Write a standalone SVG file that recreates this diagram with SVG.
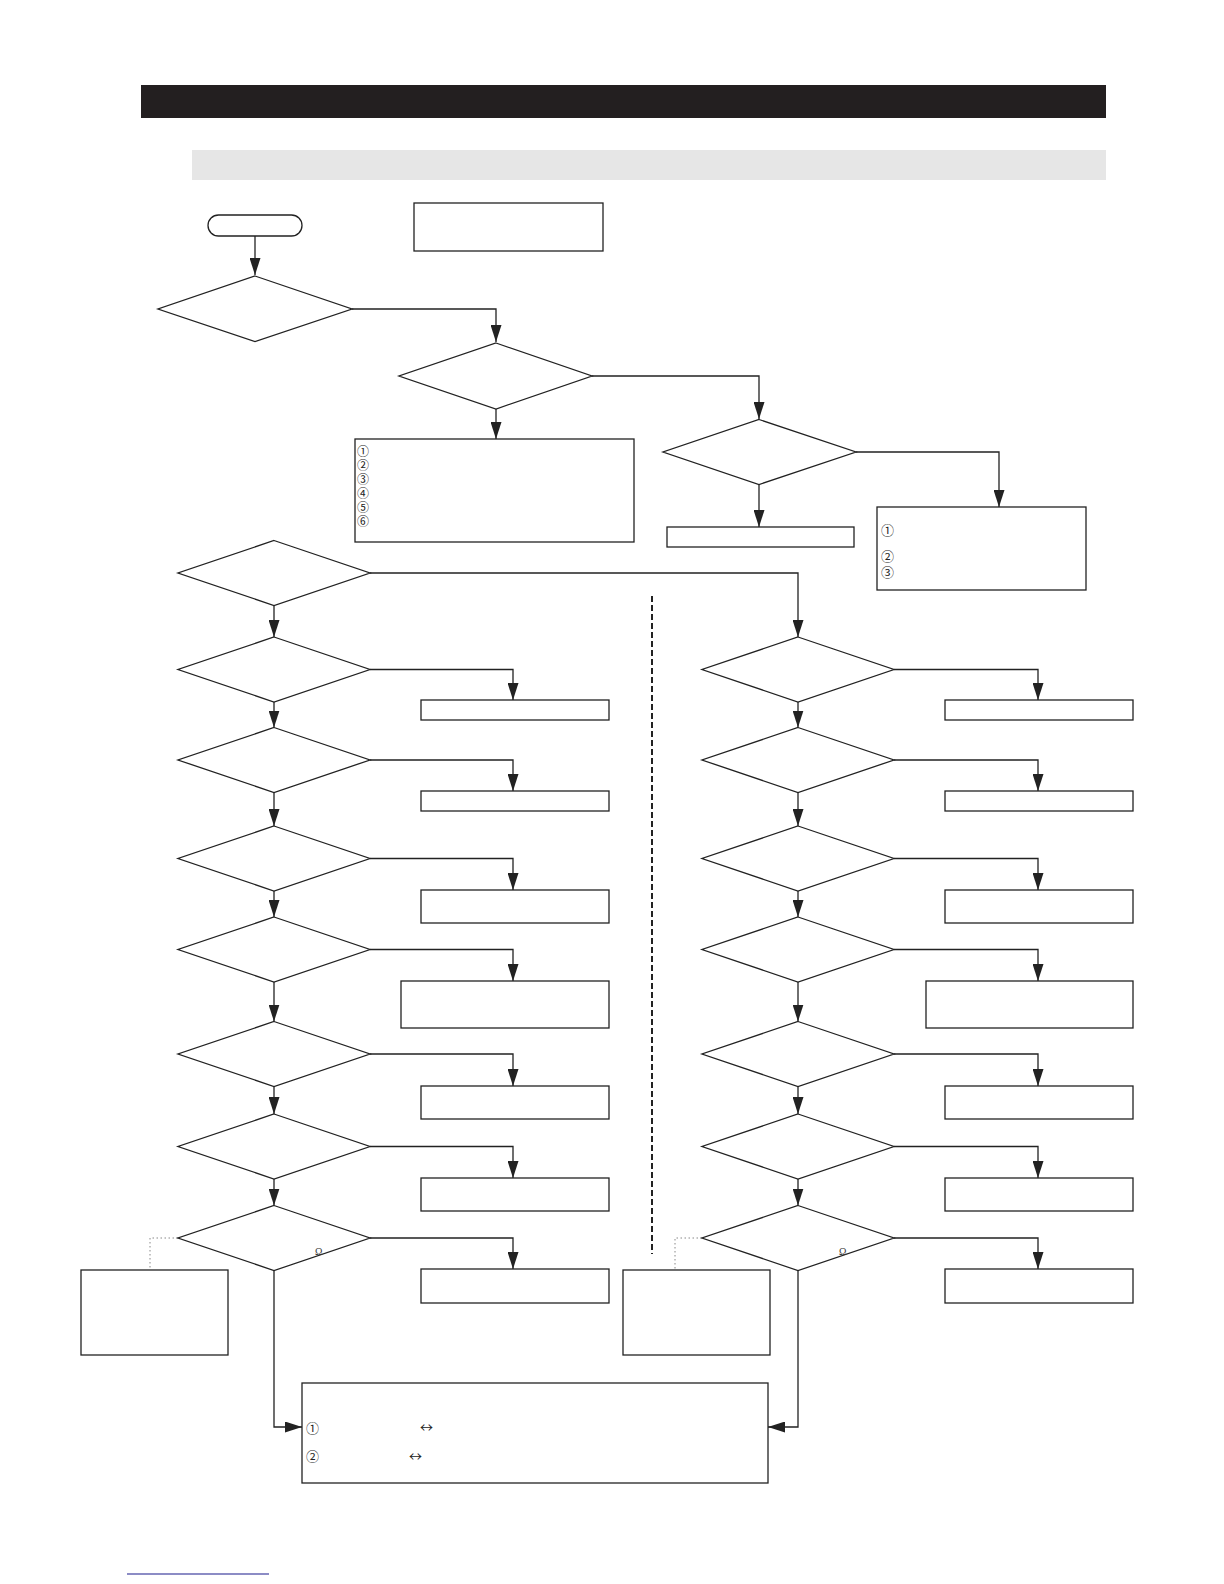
<svg xmlns="http://www.w3.org/2000/svg" width="1224" height="1584" viewBox="0 0 1224 1584">
<style>
.sh{fill:#fff;stroke:#222;stroke-width:1.3}
.cn{fill:none;stroke:#222;stroke-width:1.3}
.dot{fill:none;stroke:#888;stroke-width:1;stroke-dasharray:1.5 2.5}
.num{font-family:"Noto Sans CJK JP","DejaVu Sans",sans-serif;font-size:13px;fill:#222;dominant-baseline:central}
.num6{font-size:12px}
.sm{font-family:"Liberation Serif",serif;font-size:10px;fill:#333}
</style>
<defs>
<marker id="ah" markerWidth="17" markerHeight="11" refX="17" refY="5.5" orient="auto" markerUnits="userSpaceOnUse"><path d="M0,0 L17,5.5 L0,11 z" fill="#222"/></marker>
</defs>
<rect x="141" y="85" width="965" height="33" fill="#231f20"/>
<rect x="192" y="150" width="914" height="30" fill="#e6e6e6"/>
<line x1="127" y1="1574" x2="269" y2="1574" stroke="#1a1a8c" stroke-width="1.2"/>
<line x1="652" y1="596" x2="652" y2="1254" stroke="#222" stroke-width="2" stroke-dasharray="6 3"/>

<g id="connectors">
<path class="cn" d="M255,236 V275" marker-end="url(#ah)"/>
<path class="cn" d="M352,309 H496 V342" marker-end="url(#ah)"/>
<path class="cn" d="M496,409 V439" marker-end="url(#ah)"/>
<path class="cn" d="M592,376 H759 V419" marker-end="url(#ah)"/>
<path class="cn" d="M759,484 V527" marker-end="url(#ah)"/>
<path class="cn" d="M856,452 H999 V507" marker-end="url(#ah)"/>
<path class="cn" d="M370,573 H798 V637" marker-end="url(#ah)"/>
<path class="cn" d="M274,606 V637" marker-end="url(#ah)"/>
<path class="cn" d="M274,702 V727.5" marker-end="url(#ah)"/>
<path class="cn" d="M274,792.5 V826" marker-end="url(#ah)"/>
<path class="cn" d="M274,891 V917" marker-end="url(#ah)"/>
<path class="cn" d="M274,982 V1021.5" marker-end="url(#ah)"/>
<path class="cn" d="M274,1086.5 V1114" marker-end="url(#ah)"/>
<path class="cn" d="M274,1179 V1205.5" marker-end="url(#ah)"/>
<path class="cn" d="M370,669.5 H513 V700" marker-end="url(#ah)"/>
<path class="cn" d="M370,760 H513 V791" marker-end="url(#ah)"/>
<path class="cn" d="M370,858.5 H513 V890" marker-end="url(#ah)"/>
<path class="cn" d="M370,949.5 H513 V981" marker-end="url(#ah)"/>
<path class="cn" d="M370,1054 H513 V1086" marker-end="url(#ah)"/>
<path class="cn" d="M370,1146.5 H513 V1178" marker-end="url(#ah)"/>
<path class="cn" d="M370,1238 H513 V1269" marker-end="url(#ah)"/>
<path class="cn" d="M798,702 V727.5" marker-end="url(#ah)"/>
<path class="cn" d="M798,792.5 V826" marker-end="url(#ah)"/>
<path class="cn" d="M798,891 V917" marker-end="url(#ah)"/>
<path class="cn" d="M798,982 V1021.5" marker-end="url(#ah)"/>
<path class="cn" d="M798,1086.5 V1114" marker-end="url(#ah)"/>
<path class="cn" d="M798,1179 V1205.5" marker-end="url(#ah)"/>
<path class="cn" d="M894,669.5 H1038 V700" marker-end="url(#ah)"/>
<path class="cn" d="M894,760 H1038 V791" marker-end="url(#ah)"/>
<path class="cn" d="M894,858.5 H1038 V890" marker-end="url(#ah)"/>
<path class="cn" d="M894,949.5 H1038 V981" marker-end="url(#ah)"/>
<path class="cn" d="M894,1054 H1038 V1086" marker-end="url(#ah)"/>
<path class="cn" d="M894,1146.5 H1038 V1178" marker-end="url(#ah)"/>
<path class="cn" d="M894,1238 H1038 V1269" marker-end="url(#ah)"/>
<path class="cn" d="M274,1270.5 V1427 H302" marker-end="url(#ah)"/>
<path class="cn" d="M798,1270.5 V1427 H768" marker-end="url(#ah)"/>
<path class="dot" d="M178,1238 H150 V1270"/>
<path class="dot" d="M702,1238 H675 V1270"/>
</g>

<g id="start"><rect class="sh" x="208" y="215" width="94" height="21" rx="10.5"/></g>
<g id="note-top"><rect class="sh" x="414" y="203" width="189" height="48"/></g>
<g id="d1"><polygon class="sh" points="255,276 352,309 255,341.5 158,309"/></g>
<g id="d2"><polygon class="sh" points="496,343 592,376 496,409 399,376"/></g>
<g id="box-6"><rect class="sh" x="355" y="439" width="279" height="103"/>
<text class="num num6" x="357" y="450">①</text><text class="num num6" x="357" y="464">②</text><text class="num num6" x="357" y="478">③</text><text class="num num6" x="357" y="492">④</text><text class="num num6" x="357" y="506">⑤</text><text class="num num6" x="357" y="520">⑥</text></g>
<g id="d3"><polygon class="sh" points="759,419.5 856,452 759,484.5 663,452"/></g>
<g id="box-d3"><rect class="sh" x="667" y="527" width="187" height="20"/></g>
<g id="box-3"><rect class="sh" x="877" y="507" width="209" height="83"/>
<text class="num" x="881" y="529">①</text><text class="num" x="881" y="555">②</text><text class="num" x="881" y="571">③</text></g>
<g id="d4"><polygon class="sh" points="274,540.5 370,573 274,605.5 178,573"/></g>

<g id="left-column">
<polygon class="sh" points="274,637 370,669.5 274,702 178,669.5"/>
<polygon class="sh" points="274,727.5 370,760 274,792.5 178,760"/>
<polygon class="sh" points="274,826 370,858.5 274,891 178,858.5"/>
<polygon class="sh" points="274,917 370,949.5 274,982 178,949.5"/>
<polygon class="sh" points="274,1021.5 370,1054 274,1086.5 178,1054"/>
<polygon class="sh" points="274,1114 370,1146.5 274,1179 178,1146.5"/>
<polygon class="sh" points="274,1205.5 370,1238 274,1270.5 178,1238"/>
<text class="sm" x="315" y="1255">Ω</text>
<rect class="sh" x="421" y="700" width="188" height="20"/>
<rect class="sh" x="421" y="791" width="188" height="20"/>
<rect class="sh" x="421" y="890" width="188" height="33"/>
<rect class="sh" x="401" y="981" width="208" height="47"/>
<rect class="sh" x="421" y="1086" width="188" height="33"/>
<rect class="sh" x="421" y="1178" width="188" height="33"/>
<rect class="sh" x="421" y="1269" width="188" height="34"/>
<rect class="sh" x="81" y="1270" width="147" height="85"/>
</g>

<g id="right-column">
<polygon class="sh" points="798,637 894,669.5 798,702 702,669.5"/>
<polygon class="sh" points="798,727.5 894,760 798,792.5 702,760"/>
<polygon class="sh" points="798,826 894,858.5 798,891 702,858.5"/>
<polygon class="sh" points="798,917 894,949.5 798,982 702,949.5"/>
<polygon class="sh" points="798,1021.5 894,1054 798,1086.5 702,1054"/>
<polygon class="sh" points="798,1114 894,1146.5 798,1179 702,1146.5"/>
<polygon class="sh" points="798,1205.5 894,1238 798,1270.5 702,1238"/>
<text class="sm" x="839" y="1255">Ω</text>
<rect class="sh" x="945" y="700" width="188" height="20"/>
<rect class="sh" x="945" y="791" width="188" height="20"/>
<rect class="sh" x="945" y="890" width="188" height="33"/>
<rect class="sh" x="926" y="981" width="207" height="47"/>
<rect class="sh" x="945" y="1086" width="188" height="33"/>
<rect class="sh" x="945" y="1178" width="188" height="33"/>
<rect class="sh" x="945" y="1269" width="188" height="34"/>
<rect class="sh" x="623" y="1270" width="147" height="85"/>
</g>

<g id="box-bottom"><rect class="sh" x="302" y="1383" width="466" height="100"/>
<text class="num" x="306" y="1427">①</text><text class="num" x="420" y="1426">↔</text>
<text class="num" x="306" y="1455">②</text><text class="num" x="409" y="1455">↔</text></g>
</svg>
